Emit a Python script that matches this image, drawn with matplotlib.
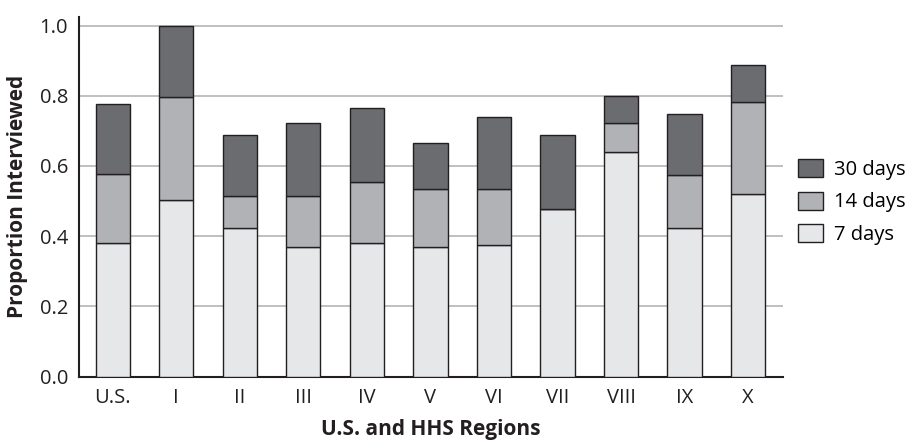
import numpy as np
import matplotlib
matplotlib.use("Agg")
import matplotlib.pyplot as plt

# Cumulative proportion interviewed within 7, 14 and 30 days
regions = ["U.S.", "I", "II", "III", "IV", "V", "VI", "VII", "VIII", "IX", "X"]
within_7 = [0.381, 0.502, 0.424, 0.369, 0.381, 0.369, 0.374, 0.477, 0.639, 0.422, 0.520]
within_14 = [0.576, 0.797, 0.514, 0.514, 0.553, 0.535, 0.533, 0.477, 0.723, 0.573, 0.781]
within_30 = [0.776, 1.000, 0.688, 0.721, 0.766, 0.666, 0.739, 0.689, 0.800, 0.748, 0.889]
series_labels = ["7 days", "14 days", "30 days"]

colors = ["#e6e7e9", "#b1b2b5", "#6b6c70"]
edge = "#231f20"

plt.rcParams["font.family"] = ["Open Sans", "DejaVu Sans"]

fig = plt.figure(figsize=(9.06, 4.41), dpi=100)
ax = fig.add_axes([0.0872, 0.146, 0.777, 0.816])

x = np.arange(len(regions))
levels = [np.array(within_7), np.array(within_14), np.array(within_30)]
bottom = np.zeros(len(regions))
bars = []
for lvl, color, label in zip(levels, colors, series_labels):
    height = lvl - bottom
    b = ax.bar(x, height, bottom=bottom, width=0.54, color=color,
               edgecolor=edge, linewidth=1.0, label=label, zorder=3)
    bars.append(b)
    bottom = lvl

ax.set_xlim(-0.53, 10.55)
ax.set_ylim(0, 1.025)
ax.set_yticks([0.0, 0.2, 0.4, 0.6, 0.8, 1.0])
ax.set_yticklabels(["0.0", "0.2", "0.4", "0.6", "0.8", "1.0"])
ax.set_xticks(x)
ax.set_xticklabels(regions)
ax.tick_params(axis="both", length=0, labelsize=14.5, colors="#231f20")
ax.tick_params(axis="y", pad=8)
ax.tick_params(axis="x", pad=8)

ax.yaxis.grid(True, color="#b5b5b5", linewidth=1.2, zorder=0)
ax.set_axisbelow(True)
for side in ["top", "right"]:
    ax.spines[side].set_visible(False)
for side in ["left", "bottom"]:
    ax.spines[side].set_color("#231f20")
    ax.spines[side].set_linewidth(1.5)

ax.set_ylabel("Proportion Interviewed", fontsize=15, fontweight="bold",
              color="#231f20", labelpad=8)
ax.set_xlabel("U.S. and HHS Regions", fontsize=15, fontweight="bold",
              color="#231f20", labelpad=8)

handles = [bars[2], bars[1], bars[0]]
labels = ["30 days", "14 days", "7 days"]
fig.legend(handles, labels, loc="center left", bbox_to_anchor=(0.881, 0.542),
           frameon=False, fontsize=14.5, handlelength=1.25, handleheight=1.0,
           handletextpad=0.55, labelspacing=0.57, borderpad=0, borderaxespad=0)

fig.savefig("out.png", dpi=100)
